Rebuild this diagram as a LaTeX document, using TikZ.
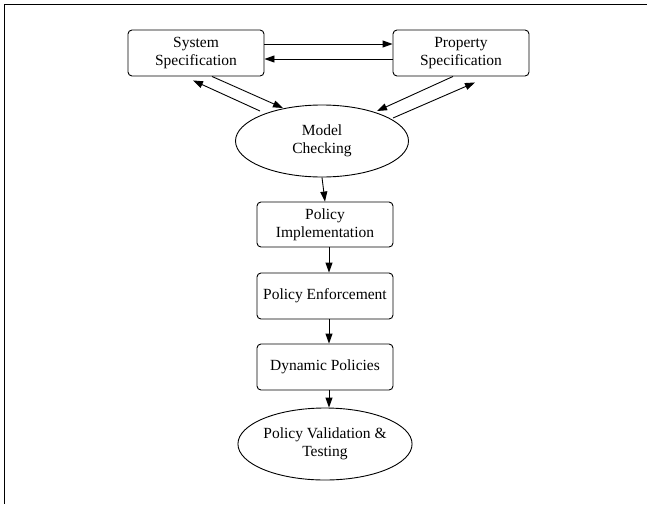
\documentclass[tikz,border=0pt]{standalone}
\usepackage{fontspec}
\setmainfont{Liberation Serif}
\usetikzlibrary{shapes.geometric,arrows.meta,calc}
\tikzset{
  box/.style={draw,rounded corners=4pt,line width=0.9pt,minimum width=136pt,minimum height=46pt,align=center,inner sep=2pt,font=\fontsize{15.5}{18}\selectfont},
  oval/.style={draw,ellipse,line width=0.9pt,minimum width=173pt,minimum height=72pt,inner sep=0pt,align=center,font=\fontsize{15.5}{18}\selectfont},
  arr/.style={line width=0.9pt,-{Triangle[length=10pt,width=7pt]}},
  frame/.style={line width=1.4pt}
}
\begin{document}
\begin{tikzpicture}[x=1pt,y=-1pt]
\useasboundingbox (0,0) rectangle (647,504);
\coordinate (ftl) at (4.6,4.6);
\coordinate (ftr) at (647,4.6);
\coordinate (fbl) at (4.6,504);
\draw[frame] (ftr) -- (ftl) -- (fbl);

\node[box] (sys) at (196,53) {System\\Specification};
\node[box] (prop) at (461,53) {Property\\Specification};
\node[oval] (mc) at (322,141) {Model\\Checking};
\node[box,minimum height=45pt] (impl) at (325,224.5) {Policy\\Implementation};
\node[box] (enf) at (325,296) {Policy Enforcement};
\node[box] (dyn) at (325,367) {Dynamic Policies};
\node[oval] (val) at (325,444) {Policy Validation \&\\Testing};

\draw[arr] ($(sys.east)+(0,-9)$) -- ($(prop.west)+(0,-9)$);
\draw[arr] ($(prop.west)+(0,6)$) -- ($(sys.east)+(0,6)$);

\draw[arr] ($(sys.south)+(16,0)$) -- ($(mc.center)+(-39,-33)$);
\draw[arr] ($(mc.center)+(-62,-30)$) -- ($(sys.south)+(-3,4)$);
\draw[arr] ($(prop.south)+(-8,0)$) -- ($(mc.center)+(55,-30)$);
\draw[arr] ($(mc.center)+(71,-23)$) -- ($(prop.south)+(14,6)$);

\draw[arr] (mc.south) -- (impl.north);
\draw[arr] ($(impl.south)+(4,0)$) -- ($(enf.north)+(4,0)$);
\draw[arr] ($(enf.south)+(4,0)$) -- ($(dyn.north)+(4,0)$);
\draw[arr] ($(dyn.south)+(4,0)$) -- ($(val.north)+(4,0)$);
\end{tikzpicture}
\end{document}
